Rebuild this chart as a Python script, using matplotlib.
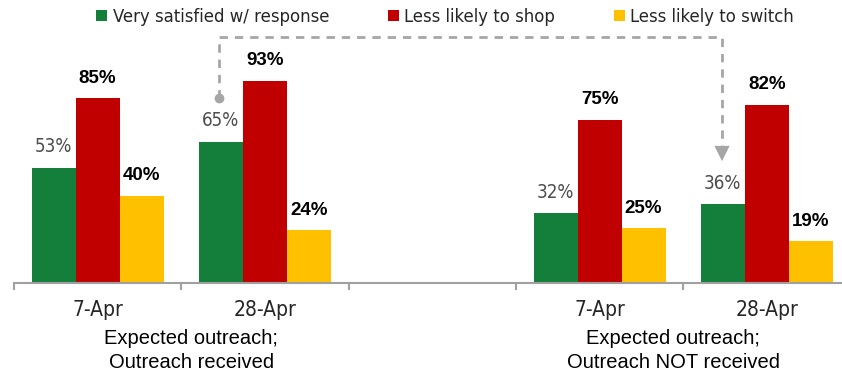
import matplotlib
matplotlib.use("Agg")
import matplotlib.pyplot as plt
from matplotlib import font_manager as fm
import numpy as np

# ---------- DATA ----------
dates = ["7-Apr", "28-Apr", "", "7-Apr", "28-Apr"]
group_labels = ["Expected outreach;\nOutreach received", "Expected outreach;\nOutreach NOT received"]
series = ["Very satisfied w/ response", "Less likely to shop", "Less likely to switch"]
satisfied = [53, 65, None, 32, 36]
shop = [85, 93, None, 75, 82]
switch = [40, 24, None, 25, 19]

colors = ["#147F3B", "#C00000", "#FFC000"]

# pick a condensed face if one is around
cond = [f for f in fm.fontManager.ttflist if "condensed" in f.fname.lower() or "narrow" in f.fname.lower()]
if cond:
    cond_file = sorted(cond, key=lambda f: ("bold" in f.fname.lower(),
                                            "oblique" in f.fname.lower() or "italic" in f.fname.lower()))[0].fname
    narrow_fp = lambda size: fm.FontProperties(fname=cond_file, size=size)
else:
    narrow_fp = lambda size: fm.FontProperties(family="Liberation Sans", size=size * 0.88)
regular = ["Liberation Sans", "DejaVu Sans"]

fig = plt.figure(figsize=(8.42, 3.71), dpi=100)
W, H = 842, 371
base_y = 282.5
slot = 167.3
ax = fig.add_axes([14 / W, (H - base_y) / H, 5 * slot / W, 125 * 2.167 / H])

width = 0.263
containers = []
for i, (vals, col) in enumerate(zip([satisfied, shop, switch], colors)):
    xs = [j + (i - 1) * width for j, v in enumerate(vals) if v is not None]
    ys = [v for v in vals if v is not None]
    bc = ax.bar(xs, ys, width=width, color=col, label=series[i], zorder=2)
    containers.append(bc)
    for x, y in zip(xs, ys):
        if i == 0:
            ax.annotate(f"{y}%", xy=(x, y), xytext=(0, 15.5), textcoords="offset pixels",
                        ha="center", va="baseline", color="#4D4D4D",
                        fontproperties=narrow_fp(13.5))
        else:
            ax.annotate(f"{y}%", xy=(x, y), xytext=(0, 15.5), textcoords="offset pixels",
                        ha="center", va="baseline", fontsize=13.5, color="black",
                        fontweight="bold", family=regular)

ax.set_xlim(-0.5, 4.5)
ax.set_ylim(0, 125)
for s in ["top", "right", "left"]:
    ax.spines[s].set_visible(False)
ax.spines["bottom"].set_color("#A0A0A0")
ax.spines["bottom"].set_linewidth(1.5)
ax.set_yticks([])
ax.set_xticks(np.arange(-0.5, 5, 1))
ax.set_xticklabels([])
ax.tick_params(axis="x", length=5, width=1.5, color="#A0A0A0")

# date labels and group captions under the axis
for j, d in enumerate(dates):
    if d:
        ax.annotate(d, xy=(j, 0), xycoords=("data", "axes fraction"), xytext=(0, -34),
                    textcoords="offset pixels", ha="center", va="baseline",
                    color="#262626", fontproperties=narrow_fp(15))
for gx, g in zip([0.56, 3.44], group_labels):
    line1, line2 = g.split("\n")
    for txt, dy in [(line1, -61.5), (line2, -86)]:
        ax.annotate(txt, xy=(gx, 0), xycoords=("data", "axes fraction"), xytext=(0, dy),
                    textcoords="offset pixels", ha="center", va="baseline",
                    fontsize=14.5, color="black", family=regular)

# dashed connector between the two 28-Apr groups
gray = "#A6A6A6"
x0, x1 = 0.725, 3.732
y_dot, y_top, y_tip = 85.3, 113.3, 56.0
ax.plot([x0, x0, x1, x1], [y_dot, y_top, y_top, y_tip + 6], ls=(0, (3, 2.5)),
        color=gray, lw=2, clip_on=False, zorder=3)
ax.plot([x0], [y_dot], "o", color=gray, ms=6, clip_on=False, zorder=3)
ax.annotate("", xy=(x1, y_tip), xytext=(x1, y_tip + 7),
            arrowprops=dict(arrowstyle="-|>,head_length=1.1,head_width=0.55",
                            color=gray, lw=0, shrinkA=0, shrinkB=0), annotation_clip=False)

fig.legend(handles=containers, labels=series, loc="center", bbox_to_anchor=(445 / W, 1 - 17 / H),
           ncol=3, frameon=False, handlelength=0.6, handleheight=0.6, handletextpad=0.3,
           columnspacing=3.2, borderpad=0, prop=narrow_fp(13.2),
           labelcolor="#262626")

fig.savefig("out.png", dpi=100)
